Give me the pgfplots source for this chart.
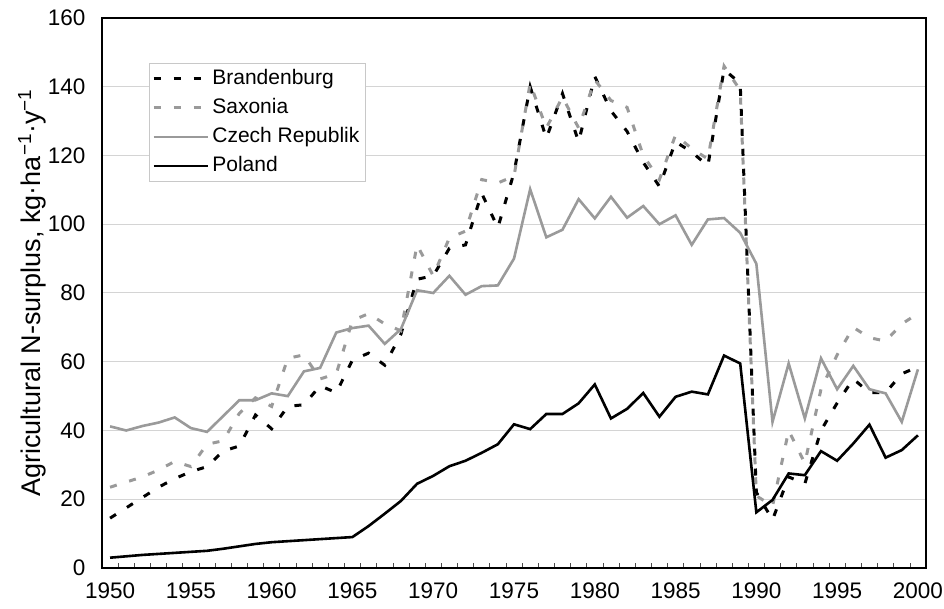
\documentclass[border=0pt]{standalone}
\usepackage{pgfplots}
\pgfplotsset{compat=1.18}
\usepackage{pgfplotstable}
\usepackage{fontspec}
\setmainfont{Liberation Sans}
\definecolor{lgray}{HTML}{9A9A9A}
\definecolor{gridgray}{HTML}{D4D4D4}
\definecolor{leggray}{HTML}{C8C8C8}

\pgfplotstableread{
year bra sax cze pol
1950 14.5 23.5 41.2 3.0
1951 17.5 25.0 40.0 3.4
1952 20.5 26.5 41.3 3.8
1953 23.5 28.5 42.3 4.1
1954 26.0 31.0 43.8 4.4
1955 28.0 29.5 40.7 4.7
1956 29.5 36.0 39.6 5.0
1957 34.0 37.0 44.2 5.6
1958 35.5 45.0 48.8 6.3
1959 44.5 49.5 48.8 7.0
1960 40.5 47.0 50.8 7.5
1961 47.0 61.0 50.0 7.8
1962 47.5 62.0 57.2 8.1
1963 53.0 55.0 58.2 8.4
1964 51.0 56.5 68.5 8.7
1965 60.5 72.0 69.8 9.0
1966 62.5 74.0 70.5 12.2
1967 59.0 71.0 65.2 15.8
1968 68.0 69.0 69.5 19.5
1969 84.0 94.0 80.8 24.5
1970 85.0 85.0 80.0 26.8
1971 93.0 96.0 85.0 29.6
1972 94.0 98.0 79.5 31.2
1973 109.0 113.0 82.0 33.5
1974 99.0 112.0 82.2 36.0
1975 115.0 114.0 90.0 41.8
1976 140.0 141.0 110.2 40.4
1977 125.0 128.0 96.2 44.8
1978 138.0 137.0 98.4 44.8
1979 124.0 128.0 107.3 47.9
1980 143.0 142.0 101.7 53.4
1981 133.0 136.0 108.0 43.5
1982 127.0 134.0 101.9 46.3
1983 118.0 120.0 105.3 50.9
1984 111.0 113.0 100.0 44.0
1985 124.0 126.0 102.6 49.8
1986 121.0 122.0 94.0 51.3
1987 117.0 119.0 101.4 50.5
1988 145.0 146.0 101.8 61.8
1989 141.0 139.0 97.5 59.5
1990 22.0 21.0 88.5 16.2
1991 14.0 18.0 42.5 19.8
1992 26.5 40.0 59.5 27.5
1993 24.5 30.5 43.5 27.0
1994 40.0 52.0 61.0 34.0
1995 48.0 62.0 52.0 31.2
1996 55.0 70.0 58.8 36.2
1997 51.0 67.0 52.0 41.7
1998 51.0 66.0 50.8 32.1
1999 56.5 71.0 42.5 34.3
2000 58.5 74.0 57.8 38.6
}\datatable

\begin{document}
\begin{tikzpicture}
\begin{axis}[
  scale only axis,
  width=824pt, height=550pt,
  xmin=1949.5, xmax=2000.5,
  ymin=0, ymax=160,
  font=\fontsize{22.5}{27}\selectfont,
  /pgf/number format/assume math mode=true,
  /pgf/number format/1000 sep={},
  xtick={1950,1955,...,2000},
  minor xtick={1949.5,1950.5,...,2000.5},
  major tick length=0pt,
  minor tick length=5pt,
  tick align=inside,
  xtick pos=bottom,
  ytick={0,20,...,160},
  ytick pos=left,
  ymajorgrids,
  major grid style={draw=gridgray, line width=1pt},
  minor tick style={draw=black!70, line width=0.6pt},
  axis line style={line width=2.4pt, line cap=rect},
  yticklabel style={xshift=-13pt},
  xticklabel style={yshift=-11pt},
  ylabel={Agricultural N-surplus, kg·ha\textsuperscript{−1}·y\textsuperscript{−1}},
  ylabel style={at={(axis description cs:-0.064,0.5)}, anchor=south, font=\fontsize{27}{32}\selectfont},
  legend cell align=left,
  legend style={at={(0.057,0.918)}, anchor=north west,
    draw=leggray, line width=0.8pt, inner sep=3pt,
    row sep=4pt,
    nodes={text height=15pt, text depth=4pt, inner sep=3pt, font=\fontsize{21}{25}\selectfont}},
  legend image code/.code={\path (0pt,0pt) -- (54pt,0pt);\draw[#1] (0pt,0pt) -- (47pt,0pt);},
]
\addplot[black, line width=3pt, dash pattern=on 7pt off 13pt] table[x=year, y=bra] {\datatable};
\addlegendentry{Brandenburg}
\addplot[lgray, line width=3pt, dash pattern=on 7pt off 13pt] table[x=year, y=sax] {\datatable};
\addlegendentry{Saxonia}
\addplot[lgray, line width=2.6pt] table[x=year, y=cze] {\datatable};
\addlegendentry{Czech Republik}
\addplot[black, line width=2.6pt] table[x=year, y=pol] {\datatable};
\addlegendentry{Poland}
\end{axis}
\pgfresetboundingbox
\path[use as bounding box] ([shift={(-102pt,-41pt)}]current axis.south west) rectangle ([shift={(18pt,18pt)}]current axis.north east);
\end{tikzpicture}
\end{document}
